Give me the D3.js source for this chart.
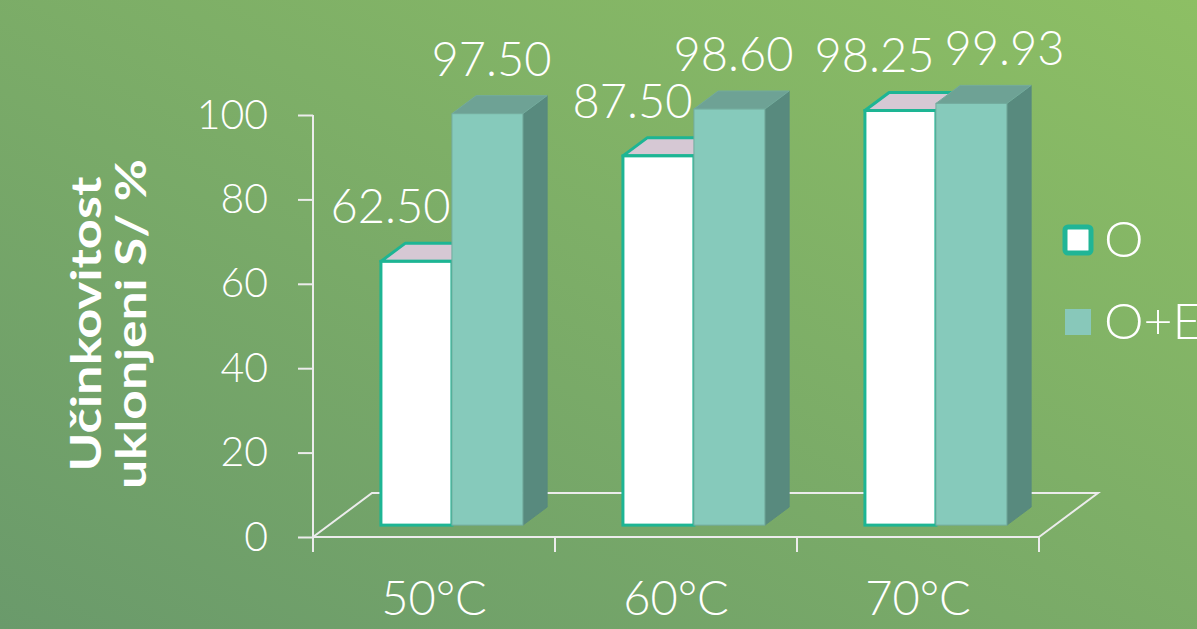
<!DOCTYPE html>
<html>
<head>
<meta charset="utf-8">
<script src="https://cdn.jsdelivr.net/npm/d3@7/dist/d3.min.js"></script>
<style>
  body { margin: 0; padding: 0; overflow: hidden; }
  svg text { font-family: "Lato", "Noto Sans", sans-serif; font-weight: 300; fill: #ffffff; }
</style>
</head>
<body>
<script>
// data
var categories = ["50°C", "60°C", "70°C"];
var series = ["O", "O+E"];
var valuesO = [62.50, 87.50, 98.25];
var valuesOE = [97.50, 98.60, 99.93];
var yTicks = [0, 20, 40, 60, 80, 100];
var axisTitle = ["Učinkovitost", "uklonjeni S/ %"];

var width = 1197, height = 629;

// 3d floor depth and bar depth (fraction of floor)
var depth = {dx: 59, dy: -44};
var z0 = 0.27, z1 = 0.68;

var svg = d3.select("body").append("svg")
    .attr("width", width)
    .attr("height", height);

var defs = svg.append("defs");
var bg = defs.append("linearGradient")
    .attr("id", "bg")
    .attr("x1", 0).attr("y1", 1)
    .attr("x2", 1).attr("y2", 0);
bg.append("stop").attr("offset", "0%").attr("stop-color", "#6a9a6b");
bg.append("stop").attr("offset", "100%").attr("stop-color", "#8dbf64");

svg.append("rect")
    .attr("width", width)
    .attr("height", height)
    .attr("fill", "url(#bg)");

var x0 = d3.scaleBand().domain(categories).range([313, 1039]);
var x1 = d3.scaleBand().domain(series).range([52, 194]);
var y = d3.scaleLinear().domain([0, 100]).range([537, 115]);

function P(x, v, z) {
    return [x + z * depth.dx, y(v) + z * depth.dy];
}
function poly(pts) {
    return pts.map(function(p) { return p[0] + "," + p[1]; }).join(" ");
}

// floor
var fl = x0.range()[0], fr = x0.range()[1];
var floor = svg.append("g")
    .attr("fill", "none")
    .attr("stroke", "#ececec")
    .attr("stroke-width", 2);
floor.append("polyline")
    .attr("points", poly([P(fl, 0, 0), P(fl, 0, 1), P(fr, 0, 1), P(fr, 0, 0)]));

// y axis
var yAxis = svg.append("g")
    .attr("transform", "translate(" + fl + ",0)")
    .call(d3.axisLeft(y).tickValues(yTicks).tickSize(15).tickPadding(30));
yAxis.select(".domain").attr("stroke", "#ececec").attr("stroke-width", 2)
    .attr("d", "M0," + y(100) + "V" + y(0));
yAxis.selectAll(".tick line").attr("stroke", "#ececec").attr("stroke-width", 2);
yAxis.selectAll(".tick text")
    .attr("fill", "#fff")
    .style("font-size", "41px")
    .style("font-family", "Lato, sans-serif");

// x axis
var xAxis = svg.append("g")
    .attr("transform", "translate(0," + y(0) + ")")
    .call(d3.axisBottom(x0).tickSize(0).tickPadding(45));
xAxis.select(".domain").attr("stroke", "#ececec").attr("stroke-width", 2)
    .attr("d", "M" + fl + ",0H" + fr);
xAxis.selectAll(".tick text")
    .attr("fill", "#fff")
    .attr("dy", "0.71em")
    .style("font-size", "47px")
    .style("font-family", "Lato, sans-serif");
// category boundary ticks
xAxis.selectAll(".sep")
    .data(categories.concat(["end"]))
    .enter().append("line")
    .attr("class", "sep")
    .attr("x1", function(d, i) { return i < categories.length ? x0(d) : fr; })
    .attr("x2", function(d, i) { return i < categories.length ? x0(d) : fr; })
    .attr("y1", 0).attr("y2", 15)
    .attr("stroke", "#ececec").attr("stroke-width", 2);

// bars
var styles = {
    "O": {front: "#ffffff", top: "#d6c8d4", side: "#d8d8e0", stroke: "#1db594", sw: 3, dx: -26},
    "O+E": {front: "#86cabb", top: "#6ea295", side: "#588a7e", stroke: "#73ab9d", sw: 1, dx: 4}
};

var bars = [];
categories.forEach(function(c, i) {
    bars.push({cat: c, s: "O", v: valuesO[i]});
    bars.push({cat: c, s: "O+E", v: valuesOE[i]});
});

var g = svg.append("g");
bars.forEach(function(d) {
    var st = styles[d.s];
    var xl = x0(d.cat) + x1(d.s), xr = xl + x1.bandwidth();
    var bg2 = g.append("g");
    bg2.append("polygon")
        .attr("points", poly([P(xr, 0, z0), P(xr, d.v, z0), P(xr, d.v, z1), P(xr, 0, z1)]))
        .attr("fill", st.side).attr("stroke", st.side).attr("stroke-width", 1);
    bg2.append("polygon")
        .attr("points", poly([P(xl, d.v, z0), P(xr, d.v, z0), P(xr, d.v, z1), P(xl, d.v, z1)]))
        .attr("fill", st.top).attr("stroke", st.stroke).attr("stroke-width", st.sw)
        .attr("stroke-linejoin", "round");
    var pf = P(xl, d.v, z0), pb = P(xr, 0, z0);
    bg2.append("rect")
        .attr("x", pf[0]).attr("y", pf[1])
        .attr("width", pb[0] - pf[0]).attr("height", pb[1] - pf[1])
        .attr("fill", st.front).attr("stroke", st.stroke).attr("stroke-width", st.sw);
});

// labels - push the second label right if it would run into the first one
var prev = null;
bars.forEach(function(d) {
    var st = styles[d.s];
    var xl = x0(d.cat) + x1(d.s);
    var top = P(xl + x1.bandwidth() / 2, d.v, z1);
    var ly = top[1] - 20;
    var t = svg.append("text")
        .attr("y", ly)
        .attr("text-anchor", "middle")
        .style("font-size", "47px")
        .text(d3.format(".2f")(d.v));
    var w = t.node().getComputedTextLength();
    var cx = xl + x1.bandwidth() / 2 + st.dx + (z0 * depth.dx);
    if (d.s === "O+E" && prev && Math.abs(prev.y - ly) < 36 && cx - w / 2 < prev.right + 10) {
        cx = prev.right + 10 + w / 2;
    }
    t.attr("x", cx);
    prev = {right: cx + w / 2, y: ly};
});

// y axis title
var title = svg.append("g");
[[101, 295], [146, 330]].forEach(function(b, i) {
    title.append("text")
        .attr("transform", "translate(" + b[0] + ",324) rotate(-90)")
        .attr("text-anchor", "middle")
        .attr("textLength", b[1])
        .attr("lengthAdjust", "spacingAndGlyphs")
        .style("font-size", "42px")
        .style("font-weight", "bold")
        .text(axisTitle[i]);
});

// legend
var legend = svg.append("g").attr("transform", "translate(1065,227)");
var li = legend.selectAll("g").data(series).enter().append("g")
    .attr("transform", function(d, i) { return "translate(0," + i * 82 + ")"; });
li.append("rect")
    .attr("width", 26).attr("height", 26)
    .attr("rx", function(d, i) { return i === 0 ? 3 : 0; })
    .attr("fill", function(d, i) { return i === 0 ? "#ffffff" : "#88c8ba"; })
    .attr("stroke", function(d, i) { return i === 0 ? "#20b596" : "none"; })
    .attr("stroke-width", 5);
li.append("text")
    .attr("x", 39)
    .attr("y", 30)
    .style("font-size", "50px")
    .text(function(d) { return d; });
</script>
</body>
</html>
